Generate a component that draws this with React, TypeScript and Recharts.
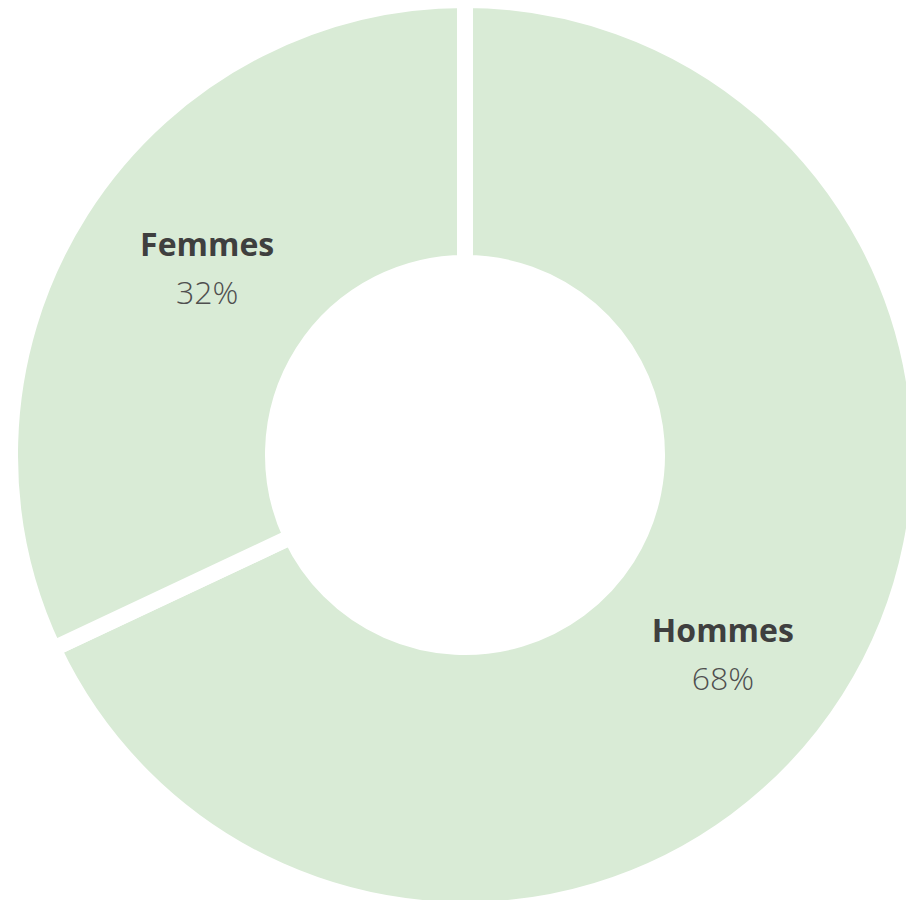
import React from 'react';
import { PieChart, Pie, Cell } from 'recharts';

const categories = ['Hommes', 'Femmes'];
const shares = [68, 32];

const data = categories.map((name, i) => ({ name, value: shares[i] }));

const RAD = Math.PI / 180;

// label block: bold name, light percentage underneath
const renderLabel = (props: any) => {
  const { cx, cy, midAngle, name, value } = props;
  const r = 322;
  const a = (midAngle - 4.4) * RAD;
  const x = cx + r * Math.cos(a);
  const y = cy - r * Math.sin(a);
  return (
    <g>
      <text x={x} y={y - 6} textAnchor="middle" fill="#3f3f3f" fontSize={32} fontWeight={700} fontFamily="'Open Sans', sans-serif">
        {name}
      </text>
      <text x={x} y={y + 42} textAnchor="middle" fill="#4f4f4f" fontSize={32} fontWeight={300} fontFamily="'Open Sans', sans-serif">
        {value}%
      </text>
    </g>
  );
};

export default function App() {
  return (
    <div style={{ position: 'absolute', left: 0, top: 0, width: 906, height: 900, background: '#fff' }}>
      <PieChart width={906} height={900} margin={{ top: 0, right: 0, bottom: 0, left: 0 }}>
        <Pie
          data={data}
          dataKey="value"
          nameKey="name"
          cx={465}
          cy={455}
          innerRadius={192}
          outerRadius={455}
          startAngle={90}
          endAngle={-270}
          stroke="#ffffff"
          strokeWidth={16}
          label={renderLabel}
          labelLine={false}
          isAnimationActive={false}
        >
          {data.map((d) => (
            <Cell key={d.name} fill="#d9ebd6" />
          ))}
        </Pie>
      </PieChart>
    </div>
  );
}
